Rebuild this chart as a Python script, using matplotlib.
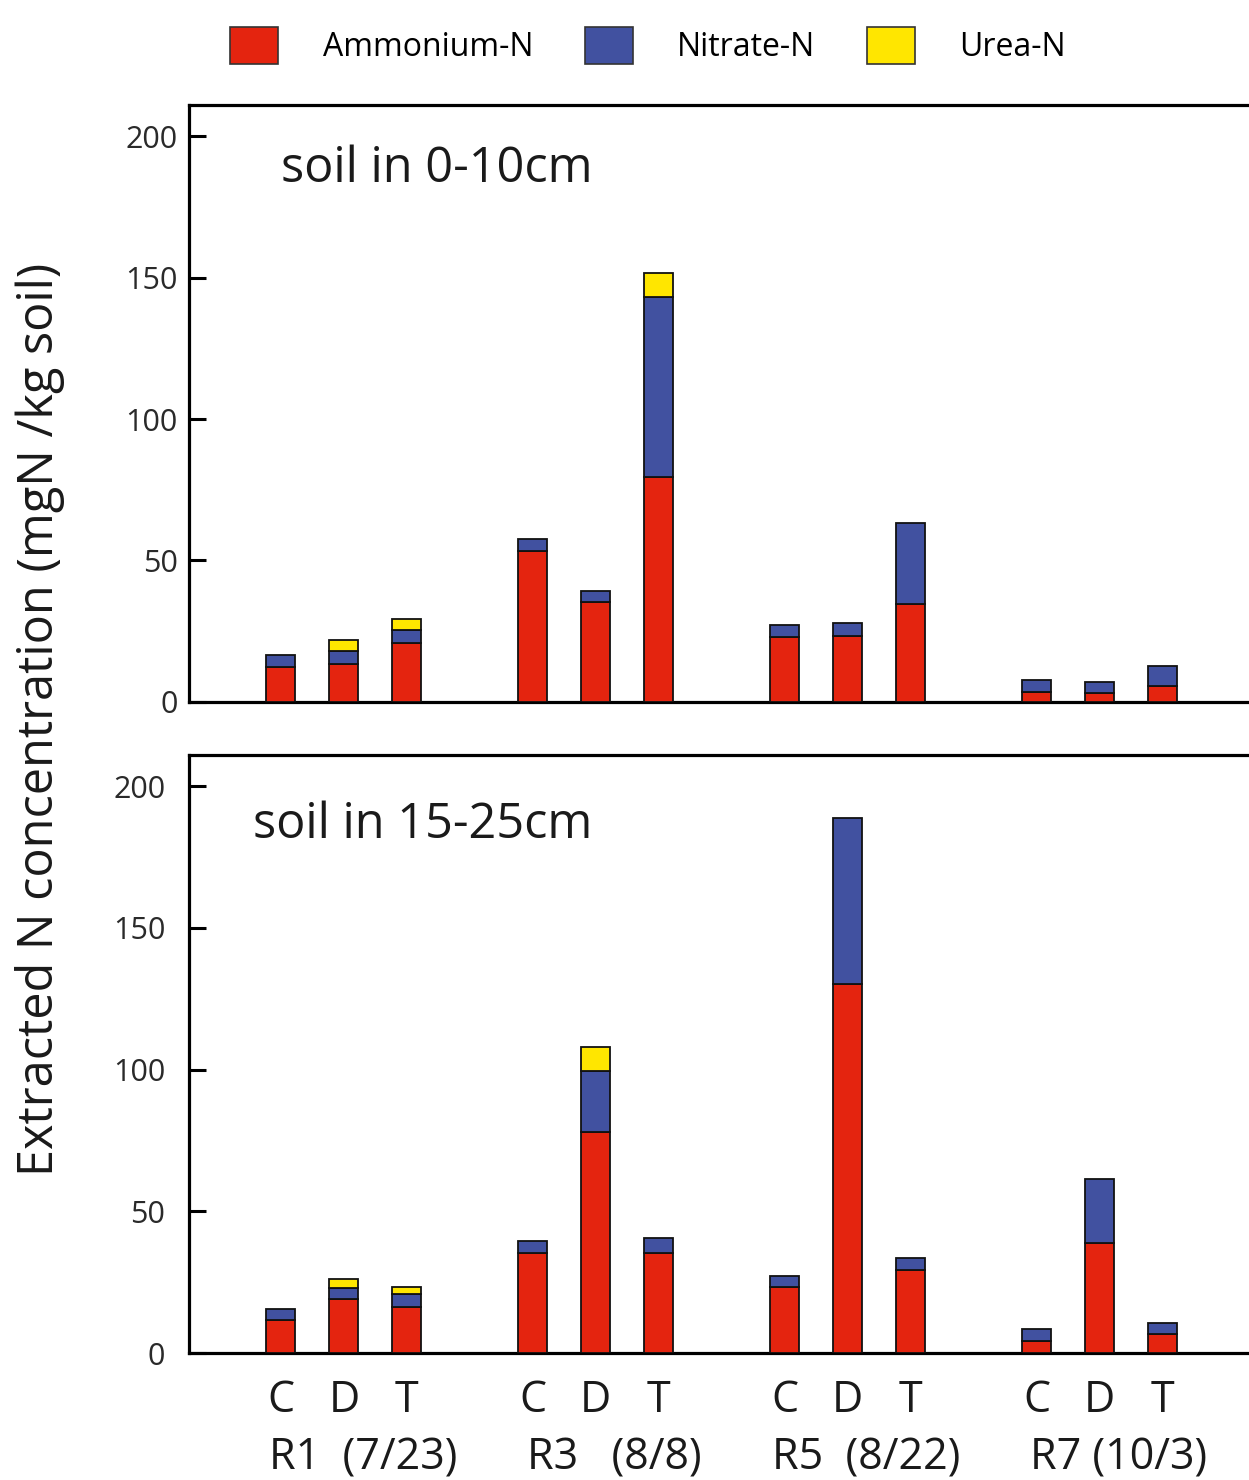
from matplotlib import pyplot as plt
from matplotlib.patches import Patch
import numpy as np

plt.rcParams['font.family'] = ['Open Sans', 'DejaVu Sans']

# bar layout: 4 sampling dates x 3 treatments
treatments = ['C', 'D', 'T'] * 4
groups = ['R1  (7/23)', 'R3   (8/8)', 'R5  (8/22)', 'R7 (10/3)']

# soil in 0-10cm (mgN / kg soil)
ammonium_top = [12.4, 13.5, 20.9, 53.5, 35.4, 79.6, 23.0, 23.4, 34.7, 3.5, 3.2, 5.7]
nitrate_top = [4.2, 4.6, 4.6, 4.2, 3.9, 63.4, 4.3, 4.6, 28.7, 4.3, 3.9, 7.0]
urea_top = [0, 3.9, 3.9, 0, 0, 8.5, 0, 0, 0, 0, 0, 0]

# soil in 15-25cm (mgN / kg soil)
ammonium_bot = [11.6, 19.0, 16.2, 35.2, 77.8, 35.2, 23.2, 130.3, 29.2, 4.2, 38.7, 6.7]
nitrate_bot = [3.9, 3.9, 4.6, 4.2, 21.8, 5.3, 3.9, 58.4, 4.3, 4.3, 22.6, 3.9]
urea_bot = [0, 3.2, 2.4, 0, 8.5, 0, 0, 0, 0, 0, 0, 0]

red = '#e4240f'
blue = '#4151a0'
yellow = '#ffe600'

x = np.array([g * 4 + j for g in range(4) for j in range(3)], dtype=float)
group_x = np.array([g * 4 + 1 for g in range(4)], dtype=float)


def stacked(ax, amm, nit, ure, title, title_pos):
    amm = np.array(amm)
    nit = np.array(nit)
    ure = np.array(ure)
    kw = dict(width=0.46, edgecolor='#111111', linewidth=1.3, zorder=3)
    ax.bar(x, amm, color=red, **kw)
    ax.bar(x, nit, bottom=amm, color=blue, **kw)
    m = ure > 0
    ax.bar(x[m], ure[m], bottom=(amm + nit)[m], color=yellow, **kw)

    ax.set_xlim(-1.46, 15.37)
    ax.set_ylim(0, 211)
    ax.set_yticks([0, 50, 100, 150, 200])
    ax.tick_params(axis='y', direction='in', length=12, width=2.2,
                   labelsize=22, labelcolor='#2a2a2a')
    ax.spines['right'].set_visible(False)
    for s in ['top', 'left', 'bottom']:
        ax.spines[s].set_linewidth(2.3)
    ax.text(title_pos[0], title_pos[1], title, transform=ax.transAxes,
            fontsize=35, color='#1a1a1a', va='center')


fig = plt.figure(figsize=(12.49, 14.80), dpi=100)
ax1 = fig.add_axes([0.1513, 0.5257, 0.8487, 0.4034])
ax2 = fig.add_axes([0.1513, 0.0858, 0.8487, 0.4041])

stacked(ax1, ammonium_top, nitrate_top, urea_top, 'soil in 0-10cm', (0.087, 0.893))
stacked(ax2, ammonium_bot, nitrate_bot, urea_bot, 'soil in 15-25cm', (0.060, 0.882))

ax1.tick_params(axis='y', pad=8)
ax1.set_xticks([])
ax2.tick_params(axis='y', pad=17)

ax2.set_xticks(x)
ax2.set_xticklabels(treatments)
ax2.tick_params(axis='x', length=0, pad=18, labelsize=31, labelcolor='#1a1a1a')

sec = ax2.secondary_xaxis('bottom')
sec.set_xticks(group_x + 0.3)
sec.set_xticklabels(groups)
sec.tick_params(axis='x', length=0, pad=60, labelsize=31, labelcolor='#1a1a1a')
sec.spines['bottom'].set_visible(False)

fig.text(0.032, 0.514, 'Extracted N concentration (mgN /kg soil)', rotation=90,
         fontsize=35, color='#1a1a1a', ha='center', va='center')

handles = [Patch(facecolor=red, edgecolor='#333333', linewidth=1.2),
           Patch(facecolor=blue, edgecolor='#333333', linewidth=1.2),
           Patch(facecolor=yellow, edgecolor='#333333', linewidth=1.2)]
fig.legend(handles, ['Ammonium-N', 'Nitrate-N', 'Urea-N'], ncol=3,
           loc='center', bbox_to_anchor=(0.519, 0.969), frameon=False,
           fontsize=23, handlelength=1.5, handleheight=1.4,
           handletextpad=1.4, columnspacing=1.6)

plt.savefig('out.png', dpi=100)
